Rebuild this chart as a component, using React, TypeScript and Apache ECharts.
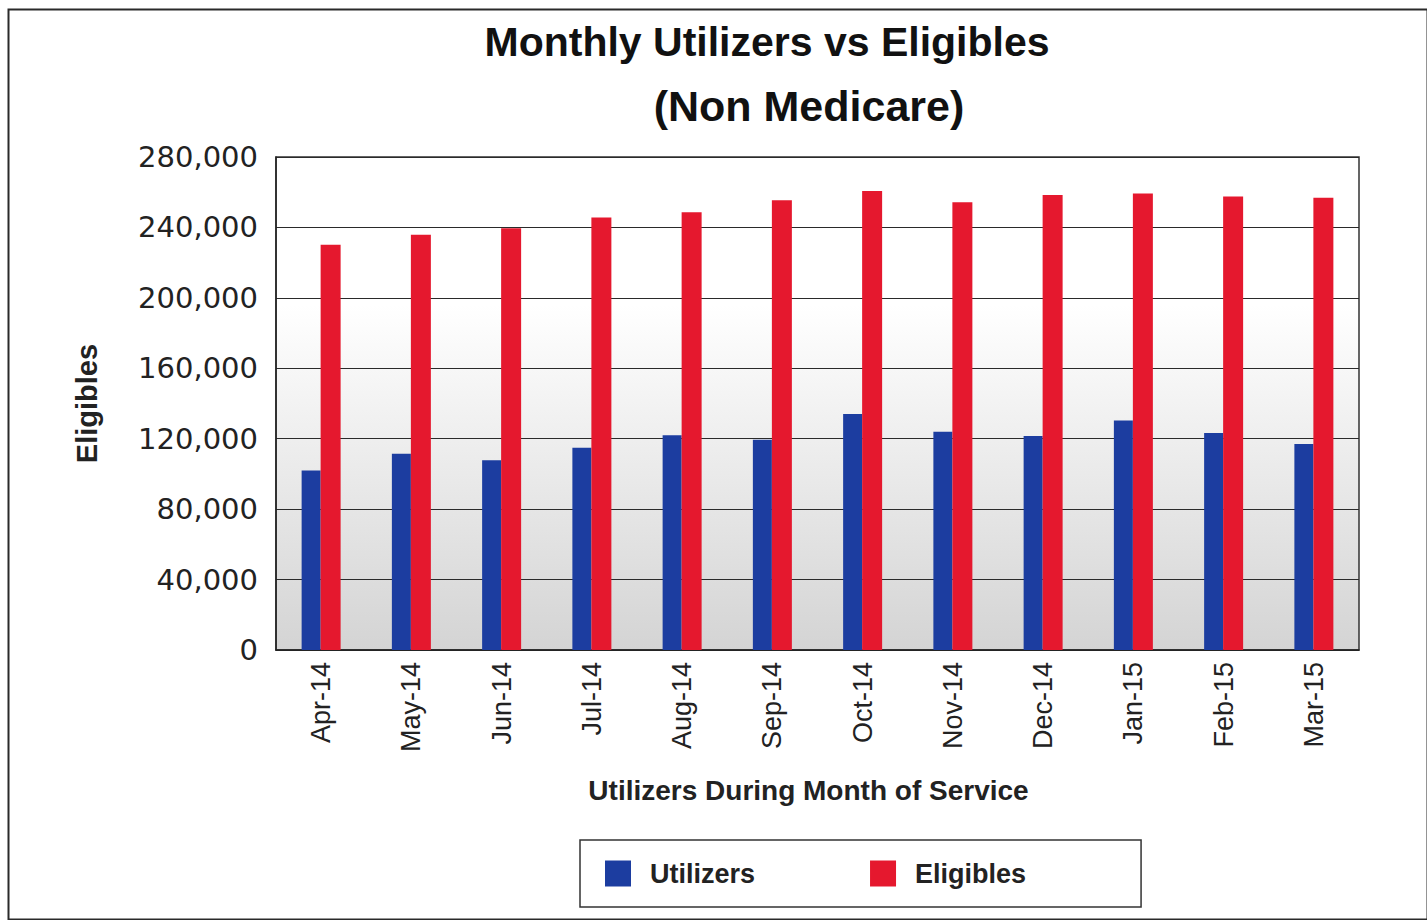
import React, { useEffect, useRef } from "react";
import * as echarts from "echarts";

const categories = ["Apr-14", "May-14", "Jun-14", "Jul-14", "Aug-14", "Sep-14", "Oct-14", "Nov-14", "Dec-14", "Jan-15", "Feb-15", "Mar-15"];
const utilizers = [102000, 111500, 107800, 114900, 122000, 119400, 134000, 124000, 121500, 130300, 123200, 117000];
const eligibles = [230100, 235800, 239500, 245700, 248600, 255500, 260700, 254300, 258400, 259300, 257500, 256900];
const titleLine1 = "Monthly Utilizers vs Eligibles";
const titleLine2 = "(Non Medicare)";
const xAxisName = "Utilizers During Month of Service";
const yAxisName = "Eligibles";

export default function App() {
  const ref = useRef<HTMLDivElement>(null);
  useEffect(() => {
    if (!ref.current) return;
    const chart = echarts.init(ref.current, null, { renderer: "svg" });
    const grid = { left: 276, top: 157, right: 68, bottom: 270 };
    chart.setOption({
      animation: false,
      backgroundColor: "#ffffff",
      title: [
        {
          text: titleLine1,
          left: 762,
          top: 16,
          textAlign: "center",
          textStyle: { fontFamily: "Liberation Sans, Arial, sans-serif", fontWeight: "bold", fontSize: 41, color: "#111" },
        },
        {
          text: titleLine2,
          left: 804,
          top: 79,
          textAlign: "center",
          textStyle: { fontFamily: "Liberation Sans, Arial, sans-serif", fontWeight: "bold", fontSize: 43, color: "#111" },
        },
      ],
      graphic: [
        {
          type: "rect",
          left: grid.left,
          top: grid.top,
          z: -10,
          shape: { width: 1427 - grid.left - grid.right, height: 920 - grid.top - grid.bottom },
          style: {
            fill: new echarts.graphic.LinearGradient(0, 0, 0, 1, [
              { offset: 0, color: "#ffffff" },
              { offset: 0.3, color: "#ffffff" },
              { offset: 1, color: "#d4d4d4" },
            ]),
          },
          silent: true,
        },
        {
          type: "rect",
          left: 6,
          top: 7,
          z: 100,
          shape: { width: 1419, height: 910 },
          style: { fill: "none", stroke: "#2a2a2a", lineWidth: 2 },
          silent: true,
        },
      ],
      legend: {
        left: 580,
        top: 840,
        orient: "horizontal",
        padding: [20, 115, 20, 25],
        borderColor: "#333",
        borderWidth: 1.5,
        itemWidth: 26,
        itemHeight: 26,
        itemGap: 115,
        icon: "rect",
        textStyle: {
          fontFamily: "Liberation Sans, Arial, sans-serif",
          fontWeight: "bold",
          fontSize: 27,
          color: "#222",
          padding: [0, 0, 0, 14],
        },
        data: ["Utilizers", "Eligibles"],
      },
      grid: { ...grid, show: true, borderColor: "#333", borderWidth: 1.5, backgroundColor: "transparent" },
      xAxis: {
        type: "category",
        data: categories,
        name: xAxisName,
        nameLocation: "middle",
        nameGap: 126,
        nameTextStyle: {
          fontFamily: "Liberation Sans, Arial, sans-serif",
          fontWeight: "bold",
          fontSize: 28,
          color: "#222",
          padding: [0, 18, 0, 0],
        },
        axisLine: { show: true, lineStyle: { color: "#222", width: 1.5 } },
        axisTick: { show: false },
        axisLabel: {
          rotate: 90,
          margin: 12,
          interval: 0,
          fontFamily: "Liberation Sans, Arial, sans-serif",
          fontSize: 27,
          color: "#222",
        },
      },
      yAxis: {
        type: "value",
        min: 0,
        max: 280000,
        interval: 40000,
        name: yAxisName,
        nameLocation: "middle",
        nameGap: 175,
        nameTextStyle: { fontFamily: "Liberation Sans, Arial, sans-serif", fontWeight: "bold", fontSize: 29, color: "#222" },
        axisLine: { show: true, lineStyle: { color: "#222", width: 1.5 } },
        axisTick: { show: false },
        axisLabel: {
          margin: 18,
          fontFamily: "DejaVu Sans, Verdana, sans-serif",
          fontSize: 29,
          color: "#222",
          formatter: (v: number) => v.toLocaleString("en-US"),
        },
        splitLine: { show: true, lineStyle: { color: "#2a2a2a", width: 1.2 } },
      },
      series: [
        {
          name: "Utilizers",
          type: "bar",
          data: utilizers,
          barWidth: 19,
          barGap: "0%",
          itemStyle: { color: "#1c3da0" },
        },
        {
          name: "Eligibles",
          type: "bar",
          data: eligibles,
          barWidth: 20,
          barGap: "0%",
          itemStyle: { color: "#e5182e" },
        },
      ],
    });
    return () => chart.dispose();
  }, []);
  return <div ref={ref} style={{ position: "fixed", left: 0, top: 0, width: 1427, height: 920 }} />;
}
